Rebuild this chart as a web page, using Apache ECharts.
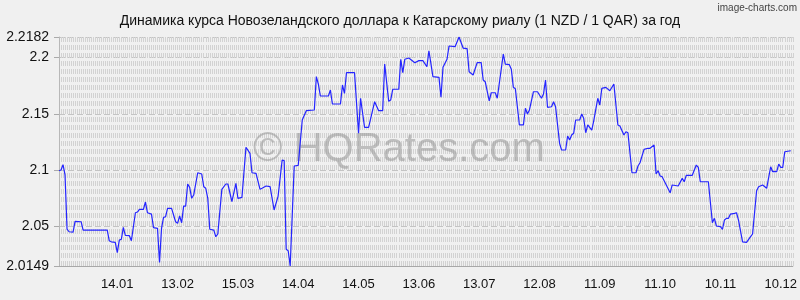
<!DOCTYPE html>
<html><head><meta charset="utf-8">
<script src="https://cdn.jsdelivr.net/npm/echarts@6/dist/echarts.min.js"></script>
<style>html,body{margin:0;padding:0;background:#f0f0f0}#c{width:800px;height:300px}</style>
</head><body><div id="c"></div>
<script>
const titleText = 'Динамика курса Новозеландского доллара к Катарскому риалу (1 NZD / 1 QAR) за год';
const creditText = 'image-charts.com';
const watermarkText = '© HQRates.com';

// day offsets counted from 14.01
const dayOffsets = [-29,-28,-27,-26,-25,-24,-22,-21,-18,-17,-5,-4,-3,-1,0,1,2,3,4,6,7,9,10,11,13,14,15,17,18,20,21,22,23,24,25,27,29,30,31,32,33,34,35,36,37,38,40,42,43,44,45,46,48,49,50,52,54,55,57,59,60,62,64,66,67,69,71,72,74,76,78,80,82,83,84,85,86,88,90,92,94,98,99,100,101,105,106,107,111,112,113,114,118,120,121,123,125,128,130,132,133,135,136,137,140,141,142,143,145,148,150,152,154,155,157,160,161,162,164,165,168,170,172,174,175,177,179,181,182,183,185,186,188,189,192,193,195,196,197,198,200,202,203,204,205,207,209,211,212,213,214,216,217,218,220,221,223,224,225,226,227,228,230,231,232,233,234,236,237,239,240,241,243,245,247,249,250,252,253,254,256,258,259,260,262,264,265,267,268,269,270,271,275,276,279,281,282,283,286,288,289,290,294,296,297,298,300,301,302,303,304,305,307,308,309,311,313,315,316,318,319,321,323,325,326,328,329,330,331,332,335];
const rates = [2.0995,2.1001,2.1048,2.0957,2.0477,2.0453,2.0450,2.0545,2.0542,2.0468,2.0468,2.0373,2.0364,2.0359,2.0267,2.0379,2.0386,2.0492,2.0421,2.0418,2.0373,2.0622,2.0628,2.0652,2.0652,2.0717,2.0622,2.0610,2.0489,2.0483,2.0181,2.0483,2.0581,2.0586,2.0661,2.0661,2.0542,2.0528,2.0593,2.0533,2.0681,2.0681,2.0877,2.0847,2.0750,2.0779,2.0977,2.0966,2.0853,2.0839,2.0750,2.0475,2.0468,2.0409,2.0433,2.0830,2.0877,2.0877,2.0720,2.0883,2.0750,2.0758,2.1203,2.1149,2.0977,2.0972,2.0830,2.0839,2.0859,2.0853,2.0646,2.0770,2.1090,2.1084,2.0297,2.0284,2.0149,2.1037,2.1043,2.1445,2.1528,2.1534,2.1830,2.1765,2.1658,2.1658,2.1711,2.1587,2.1587,2.1756,2.1682,2.1865,2.1865,2.1327,2.1638,2.1380,2.1380,2.1608,2.1528,2.1528,2.1942,2.1611,2.1623,2.1718,2.1718,2.1984,2.1865,2.1984,2.1996,2.1954,2.1972,2.1972,2.1918,2.2060,2.1830,2.1824,2.1647,2.1913,2.1984,2.2102,2.2096,2.2182,2.2084,2.2078,2.1874,2.1845,2.1954,2.1954,2.1800,2.1785,2.1616,2.1687,2.1687,2.1638,2.2031,2.1942,2.1936,2.1895,2.1735,2.1723,2.1401,2.1401,2.1549,2.1498,2.1534,2.1696,2.1696,2.1638,2.1676,2.1800,2.1558,2.1563,2.1608,2.1563,2.1238,2.1179,2.1179,2.1303,2.1267,2.1312,2.1327,2.1445,2.1445,2.1498,2.1460,2.1332,2.1401,2.1356,2.1440,2.1638,2.1578,2.1726,2.1735,2.1705,2.1765,2.1401,2.1392,2.1312,2.1341,2.1332,2.0977,2.0977,2.1037,2.1066,2.1185,2.1194,2.1194,2.1223,2.0966,2.0995,2.0948,2.0942,2.0799,2.0868,2.0859,2.0927,2.0897,2.0954,2.0954,2.1045,2.1025,2.0897,2.0897,2.0533,2.0572,2.0504,2.0498,2.0475,2.0557,2.0572,2.0572,2.0610,2.0616,2.0622,2.0557,2.0364,2.0359,2.0409,2.0433,2.0817,2.0853,2.0868,2.0839,2.1030,2.0986,2.0986,2.1054,2.1025,2.1025,2.1163,2.1172];

const xTickDays = [0,30,60,90,120,150,180,210,240,270,300,330];
const xTickLabels = ['14.01','13.02','15.03','14.04','14.05','13.06','13.07','12.08','11.09','11.10','10.11','10.12'];
const yTickValues = [2.0149,2.05,2.1,2.15,2.2,2.2182];
const yTickLabels = ['2.0149','2.05','2.1','2.15','2.2','2.2182'];

const X_MIN = -29, X_MAX = 336, Y_MIN = 2.0149, Y_MAX = 2.2182;
const FONT = '"Liberation Sans", Arial, sans-serif';

const chart = echarts.init(document.getElementById('c'), null, {renderer: 'canvas'});
chart.setOption({
  animation: false,
  backgroundColor: '#f0f0f0',
  title: {
    text: titleText, left: 'center', top: 9,
    textStyle: {fontSize: 14, fontWeight: 'normal', color: '#111', fontFamily: FONT}
  },
  graphic: [
    {type: 'text', x: 797, y: 3, z: 10,
     style: {text: creditText, fontSize: 10, fontFamily: FONT, fill: '#444', align: 'right', verticalAlign: 'top'}},
    {type: 'text', x: 399, y: 150, z: 1,
     style: {text: watermarkText, fontSize: 40, fontFamily: FONT, fill: 'rgba(150,150,150,0.55)', align: 'center', verticalAlign: 'middle'}}
  ],
  grid: {left: 59, right: 0, top: 37, bottom: 34, containLabel: false},
  xAxis: [
    {
      type: 'value', min: X_MIN, max: X_MAX,
      axisLine: {show: true, onZero: false, lineStyle: {color: '#a8a8a8', width: 1}},
      axisTick: {show: false, customValues: xTickDays},
      axisLabel: {
        customValues: xTickDays, margin: 12, fontSize: 13, color: '#111', fontFamily: FONT,
        formatter: v => xTickLabels[xTickDays.indexOf(v)] || ''
      },
      splitLine: {show: false}
    },
    {
      type: 'value', min: X_MIN, max: X_MAX, interval: 1, position: 'bottom',
      axisLine: {show: false, onZero: false}, axisTick: {show: false}, axisLabel: {show: false},
      splitLine: {show: true, lineStyle: {color: '#d2d2d2', width: 1, type: [5, 3]}}
    }
  ],
  yAxis: {
    type: 'value', min: Y_MIN, max: Y_MAX,
    axisLine: {show: true, onZero: false, lineStyle: {color: '#b8b8b8', width: 1}},
    axisTick: {show: true, customValues: yTickValues, length: 5, lineStyle: {color: '#aaa'}},
    axisLabel: {
      customValues: yTickValues, margin: 10, fontSize: 14, color: '#111', fontFamily: FONT,
      formatter: v => { const i = yTickValues.findIndex(t => Math.abs(t - v) < 1e-6); return i >= 0 ? yTickLabels[i] : ''; }
    },
    splitLine: {show: true, lineStyle: {color: '#c4c4c4', width: 1, type: [6, 3]}}
  },
  series: [{
    type: 'line', xAxisIndex: 0,
    data: dayOffsets.map((d, i) => [d, rates[i]]),
    showSymbol: false, symbol: 'none', z: 5,
    lineStyle: {color: '#2424ff', width: 1.2}
  }]
});
</script>
</body></html>
